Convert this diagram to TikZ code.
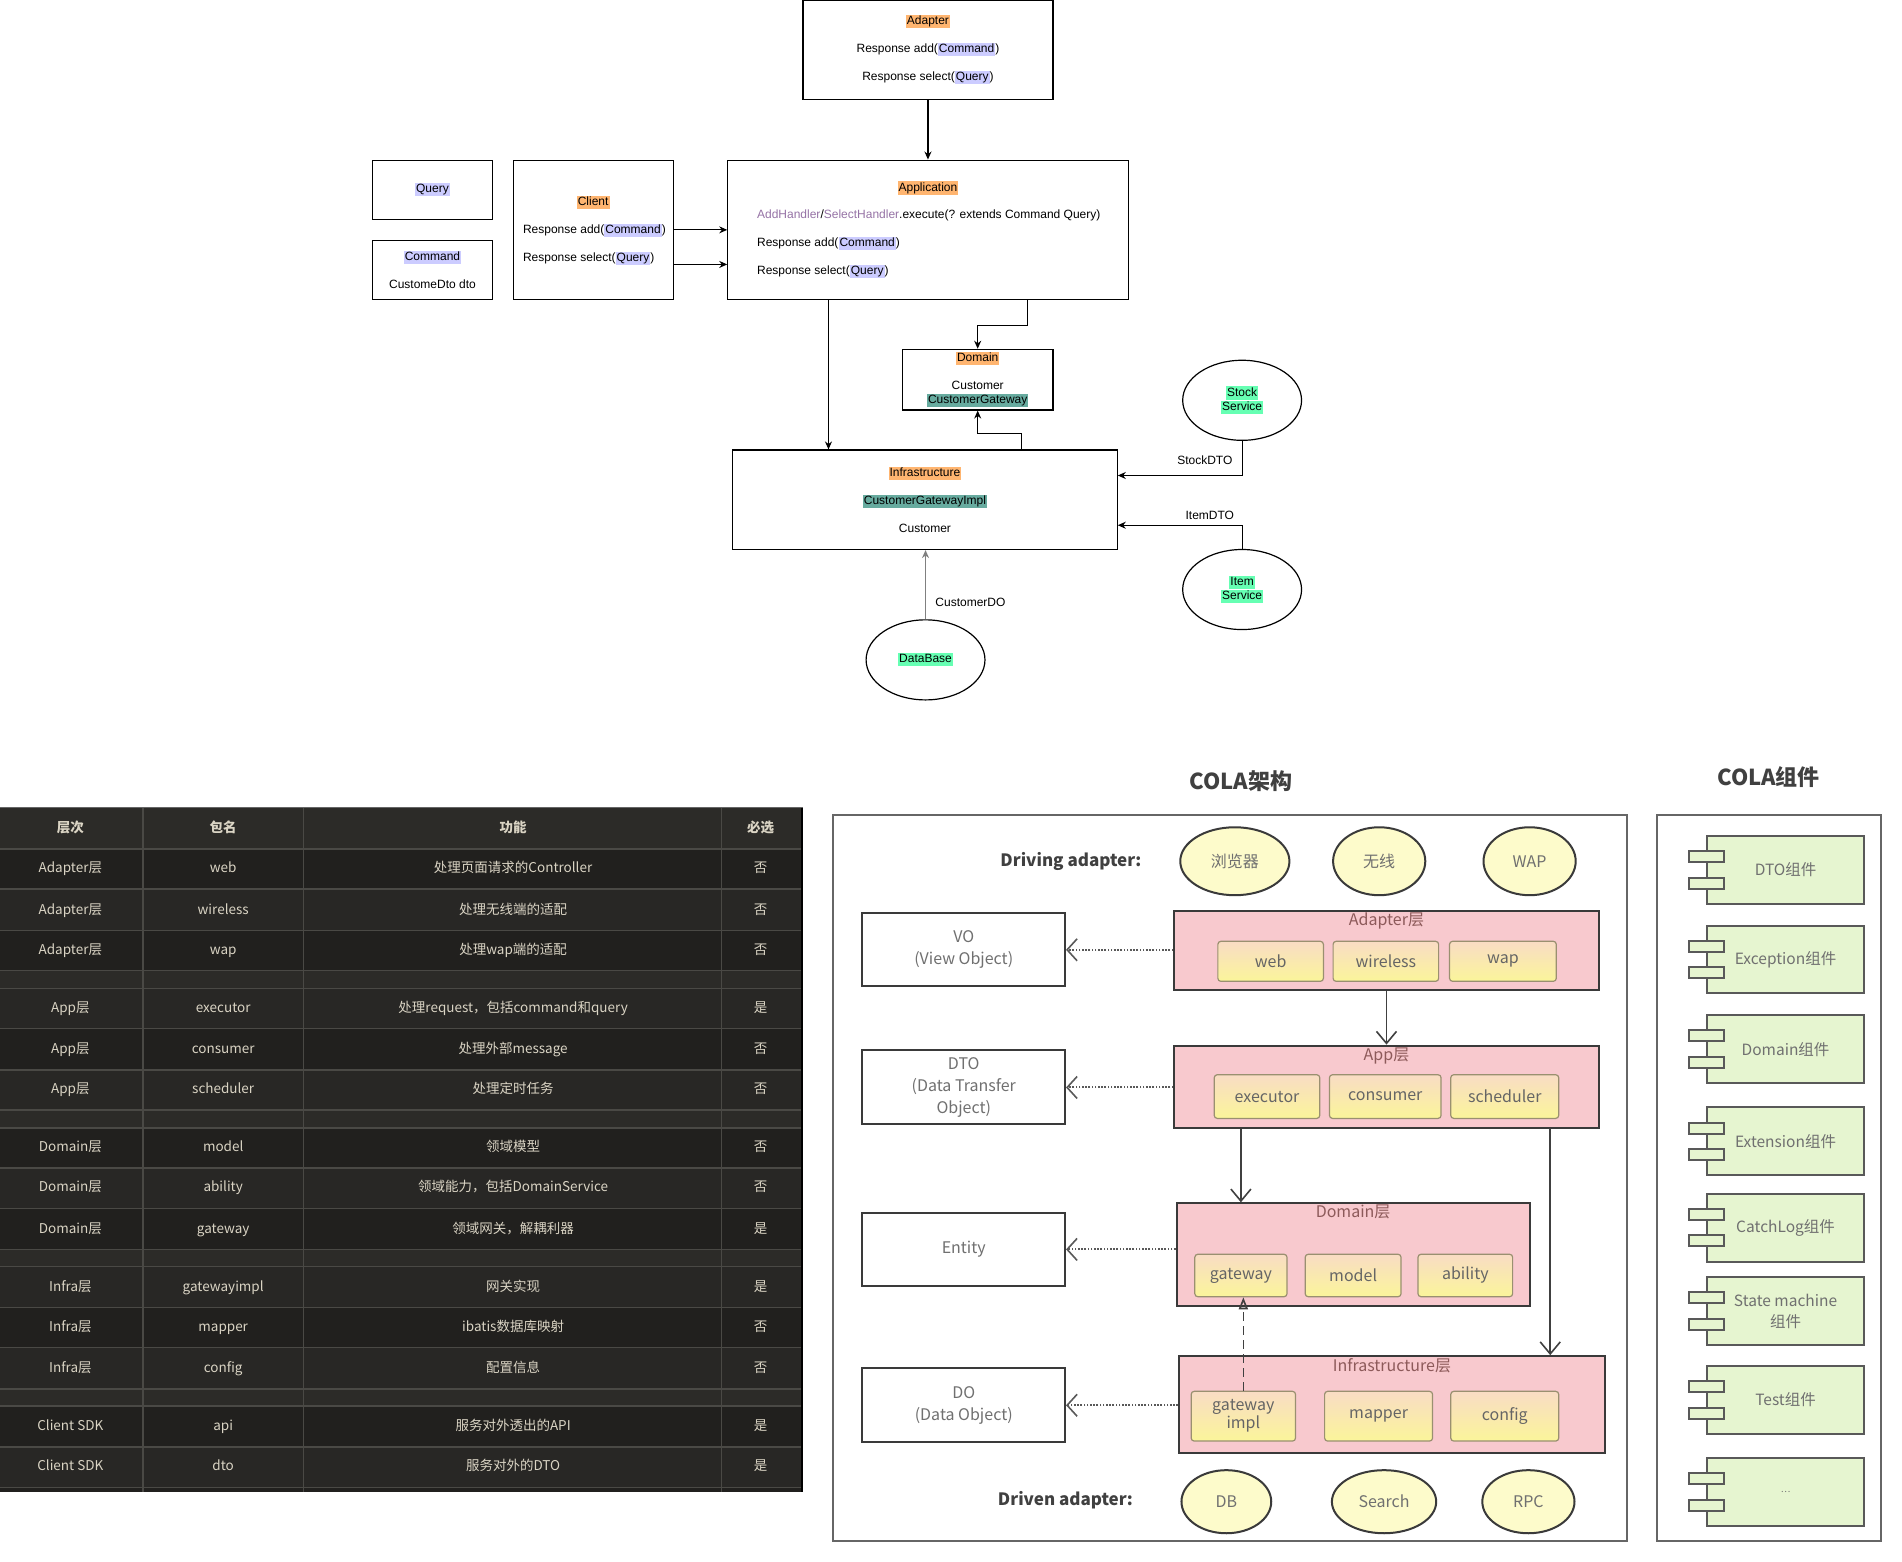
\documentclass[tikz,border=0pt]{standalone}
\usepackage{fontspec}
\setmainfont{Liberation Sans}
\newfontfamily\cjk{Noto Sans CJK SC}
\usetikzlibrary{arrows.meta,shapes.geometric}

\definecolor{hlorange}{HTML}{FFB570}
\definecolor{hlblue}{HTML}{CCCCFF}
\definecolor{hlteal}{HTML}{67AB9F}
\definecolor{hlgreen}{HTML}{66FFB3}
\definecolor{hlpurple}{HTML}{9673A6}
\definecolor{tabrow}{HTML}{21201E}
\definecolor{tabrowb}{HTML}{282725}
\definecolor{tabhead}{HTML}{2C2B28}
\definecolor{tabline}{HTML}{4A4945}
\definecolor{tabfg}{HTML}{DAD4C4}
\definecolor{layfill}{HTML}{F8C9CE}
\definecolor{layline}{HTML}{3A3A3A}
\definecolor{pkgtop}{HTML}{F9DCC4}
\definecolor{pkgbot}{HTML}{FAF59A}
\definecolor{pkgline}{HTML}{9A9070}
\definecolor{endfill}{HTML}{FDFBCB}
\definecolor{colatext}{HTML}{707070}
\definecolor{compfill}{HTML}{E6F5D0}

\newdimen\unitpx \unitpx=1.21301pt

\newcommand{\hlo}[1]{{\setlength{\fboxsep}{1pt}\colorbox{hlorange}{\vphantom{Qy}#1}}}
\newcommand{\hlb}[1]{{\setlength{\fboxsep}{1pt}\colorbox{hlblue}{\vphantom{Qy}#1}}}
\newcommand{\hlt}[1]{{\setlength{\fboxsep}{1pt}\colorbox{hlteal}{\vphantom{Qy}#1}}}
\newcommand{\hlg}[1]{{\setlength{\fboxsep}{1pt}\colorbox{hlgreen}{\vphantom{Qy}#1}}}

\tikzset{
  sz/.style 2 args={minimum width=#1*\unitpx, minimum height=#2*\unitpx},
  box/.style={draw, line width=1.2pt, inner sep=0pt},
  txt/.style={font=\fontsize{12}{27.9}\selectfont, inner sep=0pt},
  ell/.style={draw, ellipse, line width=1.2pt, inner sep=0pt, sz={98}{66},
    align=center, font=\fontsize{12}{14.5}\selectfont},
  arr/.style={-{Stealth[length=8pt,width=7pt]}, line width=1.2pt},
  tabtxt/.style={text=tabfg, font=\cjk\fontsize{13.5}{16}\selectfont, inner sep=0pt,
    text height=11.5pt, text depth=3pt},
  colabox/.style={draw=layline, line width=2pt, inner sep=0pt, text=colatext,
    align=center, font=\cjk\fontsize{16}{21.8}\selectfont},
  layer/.style={colabox, fill=layfill},
  laytxt/.style={text=colatext!80!red, inner sep=0pt, font=\cjk\fontsize{16}{19}\selectfont},
  pkg/.style={draw=pkgline, line width=1.2pt, rounded corners=3pt, top color=pkgtop,
    bottom color=pkgbot, inner sep=0pt, text=colatext!90!black, align=center,
    font=\cjk\fontsize{16}{18}\selectfont},
  endpt/.style={ellipse, draw=layline, line width=2pt, fill=endfill, inner sep=0pt,
    text=colatext, font=\cjk\fontsize{16}{19}\selectfont},
  sidetxt/.style={text=black!75, inner sep=0pt, font=\cjk\bfseries\fontsize{17}{20}\selectfont},
  colatitle/.style={text=black!75, inner sep=0pt, font=\cjk\bfseries\fontsize{22}{26}\selectfont},
  frame/.style={draw=black!60, line width=2pt, inner sep=0pt},
  dotarr/.style={line width=2pt, draw=black!65, dash pattern=on 1.6pt off 1.6pt,
    -{Straight Barb[length=10pt,width=22pt,line width=1.6pt]}},
  solarr/.style={line width=1.6pt, draw=black!75,
    -{Straight Barb[length=12pt,width=20pt,line width=1.6pt]}},
  realize/.style={line width=1.6pt, draw=black!75, dash pattern=on 9pt off 5pt,
    -{Triangle[open,length=12pt,width=9pt,line width=1.6pt]}},
  comp/.style={draw=black!65, line width=2pt, fill=compfill, inner sep=0pt, sz={130}{56},
    align=center, text=colatext, font=\cjk\fontsize{15.5}{20.6}\selectfont},
  tab/.style={draw=black!65, line width=2pt, fill=compfill, inner sep=0pt, sz={29}{9}}
}

\begin{document}
\begin{tikzpicture}[x=1.21301pt, y=-1.21301pt]
\useasboundingbox (0,0) rectangle (1568,1287);
\fill[white] (0,0) rectangle (1568,1287);

% call chain
\node[box, sz={206}{82}, txt, align=center] (adapter) at (765,41)
  {\hlo{Adapter}\\Response add(\hlb{Command})\\Response select(\hlb{Query})};
\node[box, sz={99}{49}, txt] (query) at (356.5,156.5) {\hlb{Query}};
\node[box, sz={99}{49}, txt, align=center] (command) at (356.5,222.5) {\hlb{Command}\\CustomeDto dto};
\node[box, sz={132}{115}] (client) at (489,189.5) {};
\node[txt] (clienttitle) at (489,167) {\hlo{Client}};
\node[txt, align=left, anchor=west] (clientops) at (431,201.5)
  {Response add(\hlb{Command})\\Response select(\hlb{Query})};
\node[box, sz={330}{115}] (app) at (765,189.5) {};
\node[txt] (apptitle) at (765,155) {\hlo{Application}};
\node[txt, align=left, anchor=west] (appops) at (624,201)
  {\textcolor{hlpurple}{AddHandler}/\textcolor{hlpurple}{SelectHandler}.execute(? extends Command Query)\\Response add(\hlb{Command})\\Response select(\hlb{Query})};
\node[box, sz={124}{50}, align=center, font=\fontsize{12}{14.5}\selectfont] (domain) at (806,313)
  {\hlo{Domain}\\[13pt]Customer\\\hlt{CustomerGateway}};
\node[box, sz={317}{82}, txt, align=center] (infra) at (762.5,412)
  {\hlo{Infrastructure}\\\hlt{CustomerGatewayImpl}\\Customer};
\node[ell] (stock) at (1024,330) {\hlg{Stock}\\\hlg{Service}};
\node[ell] (item) at (1024,486) {\hlg{Item}\\\hlg{Service}};
\node[ell] (db) at (763,544) {\hlg{DataBase}};

\draw[arr] (adapter) -- (app);
\draw[arr] (client.east) -- (client.east -| app.west);
\draw[arr] ([yshift=-28.5*\unitpx]client.east) -- ([yshift=-28.5*\unitpx]client.east -| app.west);
\draw[arr] ([xshift=82*\unitpx]app.south) -- ++(0,21) -| (domain.north);
\draw[arr] ([xshift=-82*\unitpx]app.south) -- ([xshift=-82*\unitpx]app.south |- infra.north);
\draw[arr] ([xshift=79.5*\unitpx]infra.north) -- ++(0,-13) -| (domain.south);
\draw[arr] (stock.south) |- ([yshift=20*\unitpx]infra.east)
  node[txt, pos=0.65, above=10pt] (stocklbl) {StockDTO};
\draw[arr] (item.north) |- ([yshift=-21*\unitpx]infra.east)
  node[txt, pos=0.63, above=5pt] (itemlbl) {ItemDTO};
\draw[arr, draw=black!50, line width=1.8pt] (db.north) -- (db.north |- infra.south)
  node[txt, pos=0.25, right=9pt] (dolbl) {CustomerDO};

% package table
\fill[tabrow] (0,666) rectangle (662,1230);
\fill[tabhead] (0,666) rectangle (662,700);
\foreach \a/\b in {800/815, 915/930, 1030/1044, 1145/1159}
  \fill[tabhead] (0,\a) rectangle (662,\b);
\foreach \x/\t in {58/层次, 184/包名, 423/功能, 627/必选}
  \node[tabtxt, font=\cjk\bfseries\fontsize{13.5}{16}\selectfont] (head-\x) at (\x,683) {\t};
\foreach \y/\a/\b/\c/\d [count=\i] in {
  716/Adapter层/web/处理页面请求的Controller/否,
  750/Adapter层/wireless/处理无线端的适配/否,
  783/Adapter层/wap/处理wap端的适配/否,
  831/App层/executor/处理request，包括command和query/是,
  865/App层/consumer/处理外部message/否,
  898/App层/scheduler/处理定时任务/否,
  946/Domain层/model/领域模型/否,
  979/Domain层/ability/领域能力，包括DomainService/否,
  1013/Domain层/gateway/领域网关，解耦利器/是,
  1061/Infra层/gatewayimpl/网关实现/是,
  1094/Infra层/mapper/ibatis数据库映射/否,
  1128/Infra层/config/配置信息/否,
  1176/Client SDK/api/服务对外透出的API/是,
  1209/Client SDK/dto/服务对外的DTO/是}
{
  \ifodd\i\else\fill[tabrowb] (0,{\y-16.5}) rectangle (662,{\y+16.5});\fi
  \node[tabtxt] (row\i-a) at (58,\y) {\a};
  \node[tabtxt] (row\i-b) at (184,\y) {\b};
  \node[tabtxt] (row\i-c) at (423,\y) {\c};
  \node[tabtxt] (row\i-d) at (627,\y) {\d};
}
\foreach \y in {700,733,767,800,815,848,882,915,930,963,996,1030,1044,1078,1111,1145,1159,1193,1226}
  \draw[tabline, line width=1.3pt] (0,\y) -- (662,\y);
\foreach \x in {118,250,595}
  \draw[tabline, line width=1.3pt] (\x,666) -- (\x,1230);
\draw[black!60, line width=1.5pt] (0,665.5) -- (662,665.5);
\draw[black, line width=2.5pt] (661,666) -- (661,1230);

% COLA architecture
\node[colatitle] (colatitle) at (1023,644) {COLA架构};
\node[frame, sz={654}{598}] (colaframe) at (1014,971) {};
\node[sidetxt, anchor=east] (driving) at (941,710) {Driving adapter:};
\node[endpt, sz={90}{56}] (browser) at (1018,710) {浏览器};
\node[endpt, sz={76}{56}] (wireless) at (1137,710) {无线};
\node[endpt, sz={76}{56}] (wap) at (1261,710) {WAP};

\node[layer, sz={350}{65}] (adl) at (1143,783.5) {};
\node[laytxt, below=3pt] (adl-t) at (adl.north) {Adapter层};
\node[pkg, sz={87}{33}] (web) at (1047.5,792.5) {web};
\node[pkg, sz={87}{33}] (wls) at (1142.5,792.5) {wireless};
\node[pkg, sz={88}{33}] (wp) at (1239,792.5) {wap};

\node[layer, sz={350}{68}] (appl) at (1143,896) {};
\node[laytxt, below=3pt] (appl-t) at (appl.north) {App层};
\node[pkg, sz={87}{36}] (exe) at (1044.5,904) {executor};
\node[pkg, sz={92}{36}] (con) at (1142,904) {consumer};
\node[pkg, sz={89}{36}] (sch) at (1240.5,904) {scheduler};

\node[layer, sz={291}{85}] (doml) at (1115.5,1034.5) {};
\node[laytxt, below=2pt] (doml-t) at (doml.north) {Domain层};
\node[pkg, sz={76}{35}] (gw) at (1023,1051.5) {gateway};
\node[pkg, sz={79}{35}] (mdl) at (1115.5,1051.5) {model};
\node[pkg, sz={78}{35}] (abl) at (1208,1051.5) {ability};

\node[layer, sz={351}{80}] (infl) at (1147.5,1158) {};
\node[laytxt, below=3pt] (infl-t) at (infl.north) {Infrastructure层};
\node[pkg, sz={86}{41}] (gwi) at (1025,1167.5) {gateway\\impl};
\node[pkg, sz={89}{41}] (mpr) at (1136.5,1167.5) {mapper};
\node[pkg, sz={89}{41}] (cfg) at (1240.5,1167.5) {config};

\node[colabox, sz={167}{60}] (vo) at (794.5,783) {VO\\(View Object)};
\node[colabox, sz={167}{61}] (dto) at (794.5,896.5) {DTO\\(Data Transfer\\Object)};
\node[colabox, sz={167}{60}] (ent) at (794.5,1030) {Entity};
\node[colabox, sz={167}{61}] (dobj) at (794.5,1158.5) {DO\\(Data Object)};

\node[sidetxt, anchor=east] (driven) at (934,1237) {Driven adapter:};
\node[endpt, sz={74}{52}] (dbend) at (1011,1238) {DB};
\node[endpt, sz={86}{52}] (search) at (1141,1238) {Search};
\node[endpt, sz={76}{52}] (rpc) at (1260,1238) {RPC};

\draw[dotarr] (vo.east -| adl.west) -- (vo.east);
\draw[dotarr] (dto.east -| appl.west) -- (dto.east);
\draw[dotarr] (ent.east -| doml.west) -- (ent.east);
\draw[dotarr] (dobj.east -| infl.west) -- (dobj.east);
\draw[solarr] (adl) -- (appl);
\draw[solarr] (appl.south -| gw) -- (doml.north -| gw);
\coordinate (appside) at (1278,930);
\draw[solarr] (appside) -- (appside |- infl.north);
\draw[realize] (gwi.north) -- (gwi.north |- gw.south);

% COLA components
\node[colatitle] (comptitle) at (1458,641) {COLA组件};
\node[frame, sz={185}{598}] (compframe) at (1458.5,971) {};
\foreach \y/\t [count=\i] in {717/DTO组件, 791/Exception组件, 865/Domain组件, 941/Extension组件,
  1012/CatchLog组件, 1081/{State machine\\组件}, 1154/Test组件, 1230/{\small\ldots}}
{
  \node[comp] (comp\i) at (1472,\y) {\t};
  \node[tab] (comp\i-a) at (1406.5,{\y-11}) {};
  \node[tab] (comp\i-b) at (1406.5,{\y+11}) {};
}
\end{tikzpicture}
\end{document}
